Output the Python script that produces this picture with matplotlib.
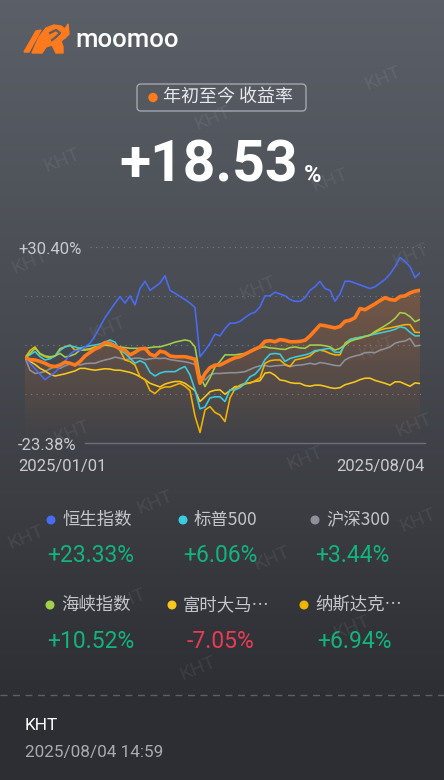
import matplotlib

matplotlib.use("Agg")
import matplotlib.pyplot as plt  # noqa: E402
import numpy as np  # noqa: E402
from matplotlib.colors import LinearSegmentedColormap  # noqa: E402
from matplotlib.patches import Circle, FancyBboxPatch, Polygon  # noqa: E402

# YTD return (%) of each series, sampled evenly from 2025/01/01 to 2025/08/04
portfolio = [0.0, -0.5, -0.6, -1.0, -1.5, -2.2, -2.4, -2.0, -1.2, -1.5,
             -2.0, -1.0, 0.5, 1.5, 2.4, 3.0, 4.2, 4.0, 3.2, 2.5,
             2.1, 0.8, 1.5, 2.4, 2.6, 1.0, 0.5, 1.8, 1.5, 0.5,
             0.3, 0.3, 0.3, 0.0, -0.4, -7.0, -4.3, -2.7, -2.0, -2.0,
             -1.3, -0.6, 0.0, 0.3, 1.0, 1.7, 2.4, 3.0, 4.5, 4.7,
             4.4, 5.0, 4.8, 4.4, 4.4, 4.5, 4.8, 6.0, 7.5, 9.0,
             8.8, 8.5, 8.2, 8.6, 10.0, 10.3, 11.0, 13.5, 13.2, 14.0,
             14.8, 15.7, 16.5, 16.0, 15.8, 16.8, 17.0, 17.8, 18.3, 18.53]
hsi = [0.0, -1.5, -3.0, -4.5, -6.0, -5.0, -4.0, -2.5, -1.0, 1.0,
       2.0, 2.0, 3.0, 4.0, 6.0, 8.5, 11.0, 13.0, 15.0, 16.8,
       15.0, 17.0, 14.5, 19.0, 21.0, 18.5, 19.5, 20.5, 22.5, 18.5,
       17.7, 16.8, 16.0, 15.0, 13.8, 0.3, 2.0, 4.0, 6.5, 6.0,
       8.0, 9.5, 9.5, 10.0, 11.0, 12.0, 12.5, 14.0, 17.0, 17.0,
       18.0, 17.5, 17.0, 16.0, 15.5, 15.5, 16.5, 18.5, 19.5, 21.0,
       19.0, 18.5, 15.5, 17.5, 21.0, 21.0, 20.5, 20.0, 19.5, 19.0,
       19.5, 20.5, 21.5, 23.0, 25.0, 27.5, 26.5, 25.0, 22.0, 23.33]
spx = [0.0, 0.8, 1.7, 0.3, -0.6, -0.3, 0.5, 2.0, 3.0, 3.3,
       3.0, 2.6, 3.0, 3.3, 3.5, 3.8, 4.3, 4.9, 4.3, 2.1,
       1.2, -0.1, -1.5, -0.8, -1.5, -4.0, -5.0, -4.2, -3.8, -3.8,
       -3.8, -3.0, -2.4, -4.7, -8.8, -14.0, -13.5, -11.0, -10.7, -10.7,
       -12.0, -8.8, -8.8, -8.2, -7.0, -5.2, -4.5, -3.0, -0.5, 1.0,
       1.2, 1.0, -1.0, -0.2, 0.2, 0.5, 0.8, 1.2, 2.0, 2.1,
       2.4, 2.6, 1.5, 1.5, 3.5, 5.0, 5.3, 5.6, 5.9, 6.2,
       6.5, 6.8, 7.1, 7.4, 7.8, 8.5, 8.2, 7.0, 6.0, 6.06]
csi300 = [0.0, -3.4, -4.3, -4.1, -3.8, -3.0, -2.5, -2.9, -2.2, -1.7,
          -1.6, -2.0, -1.6, -1.5, -1.5, -1.0, -0.6, -0.3, 0.2, -0.1,
          -0.5, -0.3, -0.1, -0.1, -0.5, -0.3, -0.1, -0.2, -0.1, -0.5,
          -0.7, -0.9, -1.1, -1.4, -1.8, -5.0, -6.1, -4.7, -4.3, -4.3,
          -4.2, -4.1, -4.1, -4.0, -3.8, -3.2, -2.6, -2.2, -2.1, -2.4,
          -2.2, -2.1, -2.0, -2.4, -2.1, -2.0, -1.8, -1.5, -1.8, -1.3,
          -1.5, -1.8, -2.1, -2.2, -0.6, 0.1, 0.5, 0.8, 1.4, 1.5,
          1.4, 2.1, 2.5, 3.0, 4.0, 4.4, 4.6, 5.3, 3.2, 3.44]
strait = [0.0, 1.2, 2.6, 1.2, 0.5, 0.3, 0.5, 1.2, 0.2, 0.5,
          1.0, 2.1, 2.1, 2.3, 2.6, 3.0, 3.5, 3.3, 3.0, 3.0,
          2.8, 2.6, 2.6, 2.6, 2.6, 2.8, 3.0, 3.0, 3.4, 3.8,
          4.3, 4.6, 4.9, 4.6, 3.0, -5.0, -7.9, -5.5, -2.5, -1.0,
          0.8, 0.8, 0.8, 1.0, 1.2, 1.6, 2.2, 2.8, 3.0, 2.7,
          2.6, 2.4, 2.3, 2.8, 3.0, 2.7, 2.6, 3.5, 3.5, 3.5,
          3.3, 3.0, 2.1, 2.6, 3.5, 4.5, 5.0, 5.3, 5.8, 6.2,
          7.2, 8.0, 8.8, 9.7, 10.8, 12.4, 12.2, 11.3, 9.9, 10.52]
klci = [0.0, -1.0, -1.8, -2.9, -3.6, -4.5, -5.0, -4.7, -4.4, -4.0,
        -3.6, -2.9, -2.9, -3.2, -3.4, -3.2, -3.0, -3.1, -3.4, -3.4,
        -3.7, -4.0, -4.5, -5.2, -6.0, -7.0, -7.5, -8.0, -7.2, -6.8,
        -6.5, -6.5, -7.0, -8.0, -9.0, -12.0, -10.7, -9.3, -8.9, -8.8,
        -10.0, -9.0, -7.9, -7.9, -7.2, -6.8, -6.5, -6.3, -4.2, -4.0,
        -4.8, -6.1, -6.3, -6.8, -7.0, -7.0, -7.6, -7.8, -7.5, -7.5,
        -7.8, -8.2, -8.4, -8.2, -7.4, -7.0, -6.6, -6.0, -5.6, -5.6,
        -6.2, -6.6, -7.0, -7.5, -6.6, -6.6, -7.2, -7.8, -6.9, -7.05]
nasdaq = [0.0, 2.0, 3.0, 1.0, 0.3, -0.1, 0.5, 2.5, 3.0, 3.5,
          2.1, 2.6, 2.3, 2.5, 3.0, 3.2, 3.5, 4.0, 3.5, 2.0,
          -0.6, -1.0, -2.0, -5.2, -6.0, -9.0, -9.8, -8.5, -8.0, -8.0,
          -7.5, -7.0, -7.8, -9.0, -16.0, -20.5, -14.3, -13.4, -15.0, -15.7,
          -17.5, -11.0, -8.5, -7.5, -7.0, -7.0, -6.3, -5.5, -1.5, -0.8,
          -0.6, -0.6, -1.8, -2.4, -0.6, -0.3, 0.0, 0.5, 1.7, 2.1,
          1.8, 1.2, 0.8, 0.8, 4.0, 5.0, 5.4, 5.6, 5.9, 6.2,
          6.9, 7.6, 8.0, 8.2, 8.5, 8.8, 9.1, 9.1, 7.0, 6.94]

names = ["恒生指数", "标普500", "沪深300", "海峡指数", "富时大马…", "纳斯达克…"]
finals = ["+23.33%", "+6.06%", "+3.44%", "+10.52%", "-7.05%", "+6.94%"]
y_top, y_bottom = 30.40, -23.38
start_date, end_date = "2025/01/01", "2025/08/04"

ORANGE = "#ff7a1c"
BLUE, CYAN, GRAY = "#4a6cf5", "#38cde2", "#8e919a"
LIME, YELLOW, AMBER = "#a3d04a", "#f8c81e", "#f4b300"
UP, DOWN = "#12b47c", "#ea3b55"
LABEL = "#c8cad0"
CJK = ["Noto Sans CJK SC", "DejaVu Sans"]
W, H = 444, 780

fig = plt.figure(figsize=(W / 100, H / 100), dpi=100)

# full-figure canvas in pixel coordinates for background and decorations
cv = fig.add_axes([0, 0, 1, 1])
cv.set_xlim(0, W)
cv.set_ylim(H, 0)
cv.axis("off")
bg = LinearSegmentedColormap.from_list("bg", ["#5b6068", "#46494f", "#2e2f34"])
grad = np.linspace(0, 1, 256)[:, None]
cv.imshow(grad, cmap=bg, extent=[0, W, 695, 0], aspect="auto", zorder=0)
cv.fill_between([0, W], 695, H, color="#2d2e33", zorder=0)
cv.plot([0, W], [695, 695], color="#5e6067", lw=1, ls=(0, (5, 4)), zorder=1)

# watermarks
for wx, wy in [(383, 78), (213, 118), (62, 160), (330, 180), (30, 262), (258, 288),
               (108, 328), (411, 255), (377, 348), (72, 432), (305, 458), (414, 425),
               (155, 502), (26, 537), (418, 520), (272, 558), (128, 600), (352, 627),
               (198, 668)]:
    cv.text(wx, wy, "KHT", color="white", alpha=0.07, fontsize=14, family="Roboto",
            rotation=22, ha="center", va="center", zorder=1)

# logo
cv.add_patch(Polygon([(24, 52), (29, 52), (41, 30), (36, 31)], color=ORANGE, zorder=3))
cv.add_patch(Polygon([(32, 53), (39, 37), (46, 28), (54, 25), (61, 26), (65, 29),
                      (68, 24), (69, 34), (65, 38), (61, 41), (63, 47), (63, 53),
                      (56, 53), (52, 45), (46, 47), (42, 53)], color=ORANGE, zorder=3))
cv.plot([50, 56, 60, 56, 52], [33, 30, 33, 37, 40], color="#5a5f67", lw=1.6, zorder=4)
cv.text(75, 40, "moomoo", color="white", fontsize=18.5, family="Roboto",
        fontweight="medium", ha="left", va="center", zorder=3)

# header pill and headline number
cv.add_patch(FancyBboxPatch((137, 84), 169, 27, boxstyle="round,pad=0,rounding_size=4",
                            fc="none", ec="#a3a6ad", lw=1, zorder=3))
cv.add_patch(Circle((153, 97.5), 4, color=ORANGE, zorder=3))
cv.text(163, 97.5, "年初至今 收益率", color="#e8e9ec", fontsize=13, family=CJK,
        ha="left", va="center", zorder=3)
cv.text(119, 182, "+18.53", color="white", fontsize=41, family="Roboto",
        fontweight="bold", ha="left", va="baseline", zorder=3)
cv.text(304, 182, "%", color="white", fontsize=17, family="Roboto",
        fontweight="bold", ha="left", va="baseline", zorder=3)

# axis texts
cv.text(18, 250, f"+{y_top:.2f}%", color=LABEL, fontsize=12, family="Roboto",
        ha="left", va="center", zorder=3)
cv.text(18, 445, f"{y_bottom:.2f}%", color=LABEL, fontsize=12, family="Roboto",
        ha="left", va="center", zorder=3)
cv.text(18, 466, start_date, color=LABEL, fontsize=12, family="Roboto",
        ha="left", va="center", zorder=3)
cv.text(425, 466, end_date, color=LABEL, fontsize=12, family="Roboto",
        ha="right", va="center", zorder=3)

# legend
dot_colors = [BLUE, CYAN, GRAY, LIME, YELLOW, AMBER]
dot_x = [51, 183, 315, 50, 172, 304]
val_x = [47, 183, 315, 47, 187, 317]
for k in range(6):
    row = k // 3
    ny, vy = (520, 555) if row == 0 else (605, 642)
    cv.add_patch(Circle((dot_x[k], ny), 3.8, color=dot_colors[k], zorder=3))
    cv.text(dot_x[k] + 11, ny, names[k], color="#c4c6cb", fontsize=12.5, family=CJK,
            ha="left", va="center", zorder=3)
    col = DOWN if finals[k].startswith("-") else UP
    cv.text(val_x[k], vy, finals[k], color=col, fontsize=16.5, family="Roboto",
            ha="left", va="center", zorder=3)

# footer
cv.text(25, 726, "KHT", color="white", fontsize=12.5, family="Roboto",
        ha="left", va="center", zorder=3)
cv.text(25, 752, "2025/08/04 14:59", color="#a9abb0", fontsize=12.3, family="Roboto",
        ha="left", va="center", zorder=3)

# line chart
ax = fig.add_axes([25 / W, 1 - 443 / H, 395 / W, 196 / H])
ax.patch.set_alpha(0)
for s in ax.spines.values():
    s.set_visible(False)
ax.set_xticks([])
ax.set_yticks([])
x = np.arange(len(portfolio))
last = len(portfolio) - 1
ax.set_xlim(0, last)
ax.set_ylim(y_bottom, y_top)

for k in range(1, 5):
    yv = y_bottom + k * (y_top - y_bottom) / 4
    x0 = 13 if k == 4 else 0
    ax.plot([x0, last + 1], [yv, yv], color="#7a7d85", lw=0.8, ls=(0, (1, 4)),
            clip_on=False, zorder=1)
ax.plot([12, last + 1], [y_bottom, y_bottom], color="#6c6f77", lw=1,
        clip_on=False, zorder=1)

# gradient fill under the portfolio line
poly = ax.fill_between(x, portfolio, y_bottom, color="none", lw=0)
fill_cmap = LinearSegmentedColormap.from_list(
    "fill", [(1, 0.48, 0.11, 0.0), (1, 0.48, 0.11, 0.24)])
img = ax.imshow(np.linspace(0, 1, 256)[:, None], cmap=fill_cmap, origin="lower",
                extent=[0, last, y_bottom, max(portfolio)],
                aspect="auto", zorder=2)
img.set_clip_path(poly.get_paths()[0], transform=ax.transData)

for series, col in [(csi300, GRAY), (klci, YELLOW), (nasdaq, AMBER), (spx, CYAN),
                    (strait, LIME), (hsi, BLUE)]:
    ax.plot(x, series, color=col, lw=1.15, zorder=3)
ax.plot(x, portfolio, color=ORANGE, lw=2.6, zorder=4, solid_joinstyle="round")

fig.savefig("out.png", dpi=100)
